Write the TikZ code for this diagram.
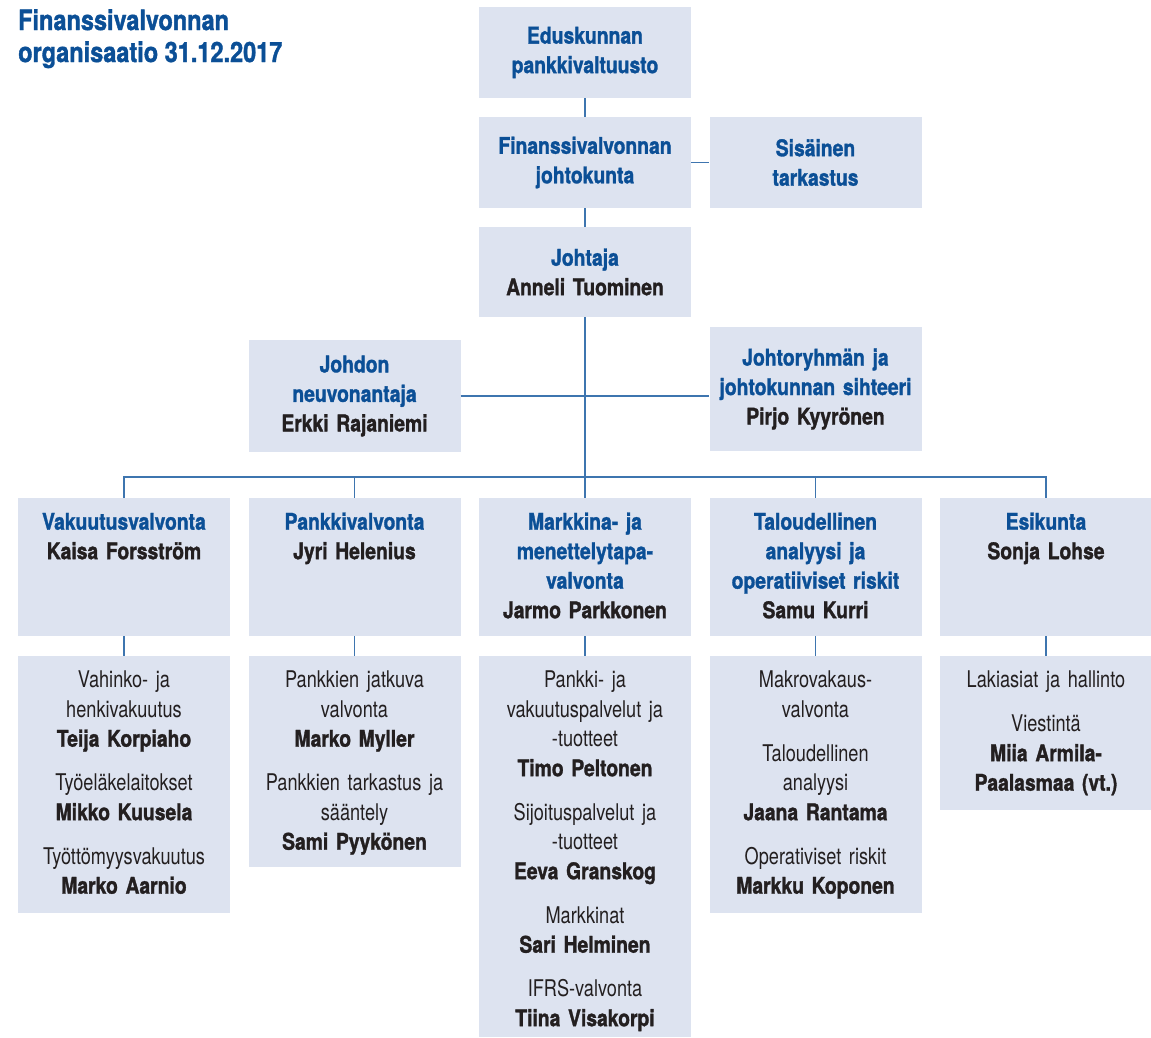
\documentclass[tikz,border=0pt]{standalone}
\usepackage{fontspec}
\setmainfont{TeX Gyre Heros}[FakeStretch=0.79]
\newfontfamily\lihava{TeX Gyre Heros}[FakeStretch=0.84,BoldFeatures={FakeBold=1.3}]
\usepackage{xcolor}
\definecolor{fivasin}{HTML}{0B4F96}
\definecolor{fivaviiva}{HTML}{3E75AF}
\definecolor{fivafond}{HTML}{DDE3F0}
\definecolor{fivanoir}{HTML}{231F20}
\usepackage{tikz}
\usetikzlibrary{positioning,calc}

\begin{document}
\begin{tikzpicture}[x=1pt,y=-1pt,
  laatikko/.style={fill=fivafond,inner sep=0pt,minimum width=212pt,text width=208pt,
    align=center,text=fivanoir,font=\lihava\bfseries\fontsize{23}{29.5}\selectfont},
  yksikko/.style={laatikko,anchor=north,text height=31.5pt},
  tiimi/.style={yksikko,font=\fontsize{23}{29.5}\selectfont},
  viiva/.style={fivaviiva,line width=1.4pt}
]
\useasboundingbox (0,0) rectangle (1151,1037);
% ---- titre ----
\node[anchor=north west,inner sep=0pt,align=left,text=fivasin,
  font=\lihava\bfseries\fontsize{28}{32}\selectfont] (otsikko) at (18,9)
  {Finanssivalvonnan\\organisaatio 31.12.2017};
% ---- direction ----
\node[laatikko,minimum height=91pt] (pv) at (585,52.5) {\color{fivasin}Eduskunnan\\pankkivaltuusto};
\node[laatikko,minimum height=91pt] (jk) at (585,162.5) {\color{fivasin}Finanssivalvonnan\\johtokunta};
\node[laatikko,minimum height=91pt] (st) at (815.5,162.5) {\color{fivasin}Sisäinen\\tarkastus};
\node[laatikko,minimum height=90pt] (joh) at (585,272) {{\color{fivasin}Johtaja}\\Anneli Tuominen};
\node[laatikko,minimum height=112pt] (neu) at (354.5,396) {{\color{fivasin}Johdon\\neuvonantaja}\\Erkki Rajaniemi};
\node[laatikko,minimum height=124pt] (siht) at (815.5,389) {{\color{fivasin}Johtoryhmän ja\\johtokunnan sihteeri}\\Pirjo Kyyrönen};
% ---- osastot ----
\foreach \x/\nimi/\teksti in {
  124/vak/{{\color{fivasin}Vakuutusvalvonta}\\Kaisa Forsström},
  354.5/pan/{{\color{fivasin}Pankkivalvonta}\\Jyri Helenius},
  585/mar/{{\color{fivasin}Markkina- ja\\menettelytapa-\\valvonta}\\Jarmo Parkkonen},
  815.5/tal/{{\color{fivasin}Taloudellinen\\analyysi ja\\operatiiviset riskit}\\Samu Kurri},
  1046/esi/{{\color{fivasin}Esikunta}\\Sonja Lohse}}
  \node[yksikko,text depth=106.5pt] (\nimi) at (\x,498) {\teksti};
% ---- toimistot ----
\foreach \x/\nimi/\syv/\teksti in {
  124/vak/225.5/{Vahinko- ja\\henkivakuutus\\{\lihava\bfseries Teija Korpiaho}\\[14.5pt]
    Työeläkelaitokset\\{\lihava\bfseries Mikko Kuusela}\\[14.5pt]
    Työttömyysvakuutus\\{\lihava\bfseries Marko Aarnio}},
  354.5/pan/179.5/{Pankkien jatkuva\\valvonta\\{\lihava\bfseries Marko Myller}\\[14.5pt]
    Pankkien tarkastus ja\\sääntely\\{\lihava\bfseries Sami Pyykönen}},
  585/mar/349.5/{Pankki- ja\\vakuutuspalvelut ja\\-tuotteet\\{\lihava\bfseries Timo Peltonen}\\[14.5pt]
    Sijoituspalvelut ja\\-tuotteet\\{\lihava\bfseries Eeva Granskog}\\[14.5pt]
    Markkinat\\{\lihava\bfseries Sari Helminen}\\[14.5pt]
    IFRS-valvonta\\{\lihava\bfseries Tiina Visakorpi}},
  815.5/tal/225.5/{Makrovakaus-\\valvonta\\[14.5pt]
    Taloudellinen\\analyysi\\{\lihava\bfseries Jaana Rantama}\\[14.5pt]
    Operativiset riskit\\{\lihava\bfseries Markku Koponen}},
  1046/esi/122.5/{Lakiasiat ja hallinto\\[14.5pt]
    Viestintä\\{\lihava\bfseries Miia Armila-}\\{\lihava\bfseries Paalasmaa (vt.)}}}
  \node[tiimi,text depth=\syv pt] (\nimi2) at (\x,656) {\teksti};
% ---- liens ----
\coordinate (haara) at (585,477);
\draw[viiva] (pv.south) -- (jk.north);
\draw[viiva] (jk.east) -- (st.west);
\draw[viiva] (jk.south) -- (joh.north);
\draw[viiva] (joh.south) -- (haara);
\draw[viiva] (neu.east) -- (neu.east -| siht.west);
\draw[viiva] (vak.north) |- (haara) -| (esi.north);
\foreach \nimi in {pan,mar,tal}
  \draw[viiva] (\nimi.north |- haara) -- (\nimi.north);
\foreach \nimi in {vak,pan,mar,tal,esi}
  \draw[viiva] (\nimi.south) -- (\nimi2.north);
\end{tikzpicture}
\end{document}
